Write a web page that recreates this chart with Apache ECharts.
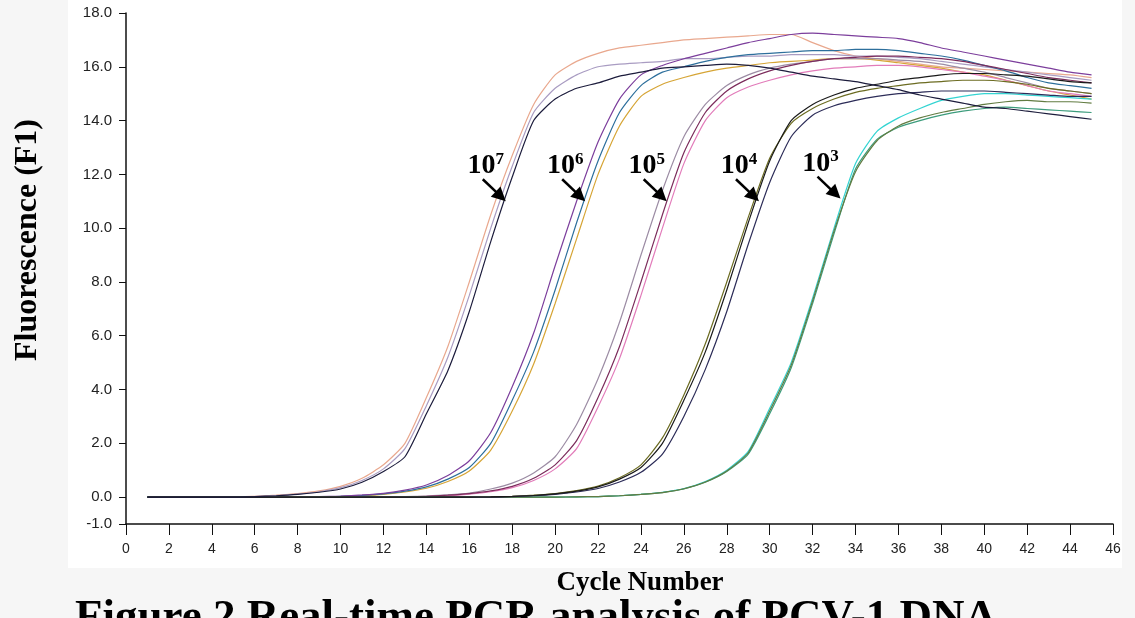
<!DOCTYPE html>
<html>
<head>
<meta charset="utf-8">
<title>Real-time PCR amplification curves</title>
<script src="https://cdn.jsdelivr.net/npm/echarts@6.0.0/dist/echarts.min.js"></script>
<style>
  html, body { margin: 0; padding: 0; background: #f6f6f6; }
  #chart { width: 1135px; height: 618px; }
</style>
</head>
<body>
<div id="chart"></div>
<script>
// cycle numbers (x)
const cycles = [1,2,3,4,5,6,7,8,9,10,11,12,13,14,15,16,17,18,19,20,21,22,23,24,25,26,27,28,29,30,31,32,33,34,35,36,37,38,39,40,41,42,43,44,45];

// fluorescence, 10^7 copies
const k7Pink  = [0,0,0,0,0,0.03,0.07,0.13,0.23,0.4,0.7,1.2,2.0,3.7,5.6,8.0,10.5,12.7,14.6,15.7,16.2,16.5,16.7,16.8,16.9,17.0,17.05,17.1,17.15,17.2,17.2,16.9,16.6,16.4,16.3,16.2,16.1,16.0,15.95,15.9,15.85,15.8,15.75,15.7,15.6];
const k7Lilac = [0,0,0,0,0,0.02,0.06,0.11,0.2,0.35,0.62,1.05,1.8,3.4,5.2,7.5,10.0,12.3,14.3,15.2,15.7,16.0,16.1,16.15,16.2,16.3,16.3,16.35,16.4,16.4,16.45,16.45,16.45,16.4,16.4,16.35,16.3,16.2,16.1,16.0,15.9,15.8,15.7,15.6,15.5];
const k7Black = [0,0,0,0,0,0.02,0.05,0.1,0.18,0.3,0.55,0.95,1.5,3.1,4.7,6.9,9.5,11.9,14.0,14.8,15.2,15.4,15.65,15.8,15.95,16.0,16.05,16.1,16.05,15.95,15.8,15.65,15.55,15.45,15.3,15.15,14.95,14.8,14.65,14.5,14.45,14.35,14.25,14.15,14.05];

// 10^6
const k6Purple = [0,0,0,0,0,0,0,0,0.02,0.04,0.08,0.14,0.26,0.45,0.8,1.35,2.4,4.1,6.1,8.6,11.0,13.2,14.8,15.7,16.05,16.3,16.5,16.7,16.9,17.05,17.2,17.25,17.2,17.15,17.1,17.05,16.9,16.7,16.55,16.4,16.25,16.1,15.95,15.8,15.7];
const k6Navy   = [0,0,0,0,0,0,0,0,0,0.03,0.06,0.12,0.22,0.38,0.67,1.1,2.0,3.6,5.4,7.7,10.2,12.5,14.3,15.3,15.8,16.0,16.2,16.35,16.45,16.5,16.55,16.6,16.6,16.65,16.65,16.6,16.5,16.4,16.25,16.05,15.85,15.6,15.4,15.3,15.2];
const k6Orange = [0,0,0,0,0,0,0,0,0,0.02,0.05,0.1,0.19,0.33,0.58,0.97,1.75,3.2,4.95,7.2,9.6,12.0,13.8,14.9,15.35,15.6,15.8,15.95,16.05,16.15,16.2,16.25,16.3,16.3,16.25,16.15,16.05,15.95,15.8,15.7,15.5,15.3,15.1,14.95,14.8];

// 10^5
const k5Gray    = [0,0,0,0,0,0,0,0,0,0,0,0,0.02,0.04,0.08,0.15,0.3,0.52,0.9,1.5,2.7,4.4,6.5,9.0,11.4,13.4,14.6,15.3,15.7,15.95,16.1,16.2,16.3,16.3,16.3,16.25,16.2,16.1,15.95,15.8,15.6,15.4,15.2,15.1,15.0];
const k5Magenta = [0,0,0,0,0,0,0,0,0,0,0,0,0,0.03,0.07,0.13,0.23,0.4,0.7,1.2,2.1,3.7,5.6,8.0,10.5,12.8,14.3,15.1,15.55,15.85,16.05,16.2,16.3,16.35,16.4,16.4,16.35,16.3,16.2,16.05,15.9,15.75,15.6,15.5,15.4];
const k5Pink    = [0,0,0,0,0,0,0,0,0,0,0,0,0,0.02,0.05,0.11,0.2,0.35,0.62,1.05,1.8,3.35,5.15,7.5,10.0,12.4,14.0,14.85,15.25,15.5,15.7,15.85,15.95,16.0,16.05,16.05,16.0,15.9,15.8,15.65,15.5,15.3,15.1,15.0,14.9];

// 10^4
const k4Black = [0,0,0,0,0,0,0,0,0,0,0,0,0,0,0,0,0.01,0.03,0.06,0.12,0.22,0.38,0.67,1.1,2.0,3.6,5.4,7.7,10.2,12.5,14.0,14.6,14.95,15.2,15.35,15.5,15.6,15.7,15.75,15.75,15.7,15.65,15.55,15.45,15.4];
const k4Olive = [0,0,0,0,0,0,0,0,0,0,0,0,0,0,0,0,0.01,0.03,0.07,0.13,0.24,0.41,0.72,1.2,2.2,3.8,5.7,8.0,10.4,12.6,13.9,14.45,14.8,15.05,15.2,15.3,15.4,15.45,15.5,15.5,15.45,15.35,15.2,15.1,15.0];
const k4Navy  = [0,0,0,0,0,0,0,0,0,0,0,0,0,0,0,0,0,0.02,0.05,0.1,0.19,0.32,0.56,0.92,1.6,3.0,4.75,6.9,9.4,11.7,13.4,14.2,14.55,14.75,14.9,15.0,15.05,15.1,15.1,15.1,15.05,15.0,14.95,14.9,14.9];

// 10^3
const k3Cyan  = [0,0,0,0,0,0,0,0,0,0,0,0,0,0,0,0,0,0,0,0,0.01,0.02,0.05,0.1,0.18,0.32,0.58,1.0,1.7,3.3,5.0,7.4,10.0,12.4,13.6,14.1,14.45,14.75,14.9,15.0,15.0,14.95,14.9,14.85,14.8];
const k3Green = [0,0,0,0,0,0,0,0,0,0,0,0,0,0,0,0,0,0,0,0,0.01,0.02,0.05,0.1,0.17,0.3,0.55,0.95,1.6,3.1,4.8,7.2,9.8,12.2,13.3,13.75,14.0,14.2,14.35,14.45,14.5,14.45,14.4,14.35,14.3];
const k3Olive = [0,0,0,0,0,0,0,0,0,0,0,0,0,0,0,0,0,0,0,0,0.01,0.02,0.05,0.1,0.17,0.31,0.56,0.97,1.65,3.2,4.9,7.3,9.9,12.1,13.25,13.8,14.1,14.3,14.45,14.6,14.7,14.75,14.7,14.7,14.65];

const curves = [
  { name: '10^7 a', data: k7Pink,    color: '#e9a88e' },
  { name: '10^7 b', data: k7Lilac,   color: '#a99cc2' },
  { name: '10^6 c', data: k6Orange,  color: '#d6a536' },
  { name: '10^6 b', data: k6Navy,    color: '#2d6f9c' },
  { name: '10^6 a', data: k6Purple,  color: '#7c3e9c' },
  { name: '10^5 a', data: k5Gray,    color: '#9c8ca4' },
  { name: '10^5 c', data: k5Pink,    color: '#e27cba' },
  { name: '10^5 b', data: k5Magenta, color: '#7c2c5c' },
  { name: '10^3 a', data: k3Cyan,    color: '#34d4d2' },
  { name: '10^3 b', data: k3Green,   color: '#3c9c7c' },
  { name: '10^3 c', data: k3Olive,   color: '#627c42' },
  { name: '10^4 b', data: k4Olive,   color: '#6c6c22' },
  { name: '10^4 c', data: k4Navy,    color: '#2c2c58' },
  { name: '10^4 a', data: k4Black,   color: '#1a1a1a' },
  { name: '10^7 c', data: k7Black,   color: '#1c1c3c' }
];

// y tick values, x ticks are every 2 cycles
const yTicks = [-1, 0, 2, 4, 6, 8, 10, 12, 14, 16, 18];

// dilution labels: where each arrow points (cycle, fluorescence)
const annoCycle = [17.7, 21.4, 25.2, 29.5, 33.3];
const annoValue = [11.0, 11.0, 11.0, 11.0, 11.1];
const annoExp   = ['7', '6', '5', '4', '3'];

const chart = echarts.init(document.getElementById('chart'));

const serif = '"Liberation Serif", "Times New Roman", serif';
const sans = '"Liberation Sans", Arial, sans-serif';

const lineSeries = curves.map(c => ({
  name: c.name,
  type: 'line',
  symbol: 'none',
  smooth: 0.2,
  silent: true,
  lineStyle: { width: 1.2, color: c.color },
  data: cycles.map((x, i) => [x, c.data[i]])
}));

const annoSeries = {
  type: 'custom',
  silent: true,
  z: 10,
  data: annoCycle.map((c, i) => [c, annoValue[i], annoExp[i]]),
  renderItem: function (params, api) {
    const tip = api.coord([api.value(0), api.value(1)]);
    const exp = annoExp[params.dataIndex];
    const dx = 23, dy = 22;
    const len = Math.sqrt(dx * dx + dy * dy);
    const ux = dx / len, uy = dy / len;
    const head = 14, half = 7;
    const bx = tip[0] - ux * head, by = tip[1] - uy * head;
    return {
      type: 'group',
      children: [
        {
          type: 'line',
          shape: { x1: tip[0] - dx, y1: tip[1] - dy, x2: bx + ux * 2, y2: by + uy * 2 },
          style: { stroke: '#000', lineWidth: 2.5 }
        },
        {
          type: 'polygon',
          shape: { points: [[tip[0], tip[1]], [bx - uy * half, by + ux * half], [bx + uy * half, by - ux * half]] },
          style: { fill: '#000' }
        },
        {
          type: 'text',
          x: tip[0] - 20,
          y: tip[1] - 35,
          style: {
            text: '{b|10}{s|' + exp + '}',
            align: 'center',
            verticalAlign: 'middle',
            rich: {
              b: {
                fontFamily: serif, fontWeight: 'bold', fontSize: 28, lineHeight: 30, fill: '#000',
                textShadowColor: 'rgba(0,0,0,0.35)', textShadowOffsetX: 2, textShadowOffsetY: 2
              },
              s: {
                fontFamily: serif, fontWeight: 'bold', fontSize: 17, lineHeight: 18, verticalAlign: 'top', fill: '#000',
                textShadowColor: 'rgba(0,0,0,0.35)', textShadowOffsetX: 2, textShadowOffsetY: 2
              }
            }
          }
        }
      ]
    };
  }
};

chart.setOption({
  animation: false,
  backgroundColor: '#f6f6f6',
  grid: { left: 126, right: 22, top: 13, bottom: 94 },
  graphic: [
    { type: 'rect', z: -100, silent: true, shape: { x: 68, y: 0, width: 1054, height: 568 }, style: { fill: '#ffffff' } },
    { type: 'rect', z: 100, silent: true, shape: { x: 1122, y: 0, width: 13, height: 568 }, style: { fill: '#f6f6f6' } },
    {
      type: 'text', z: 100, x: 28, y: 240, rotation: Math.PI / 2,
      style: { text: 'Fluorescence (F1)', align: 'center', verticalAlign: 'middle', font: 'bold 32px ' + serif, fill: '#000' }
    },
    {
      type: 'text', z: 90, x: 75, y: 596,
      style: { text: 'Figure 2 Real-time PCR analysis of PCV-1 DNA', align: 'left', verticalAlign: 'top', font: 'bold 45px ' + serif, fill: '#000' }
    },
    {
      type: 'text', z: 100, x: 640, y: 583,
      style: { text: 'Cycle Number', align: 'center', verticalAlign: 'middle', font: 'bold 27px ' + serif, fill: '#000' }
    }
  ],
  xAxis: {
    type: 'value',
    min: 0,
    max: 46,
    interval: 2,
    splitLine: { show: false },
    axisLine: { show: true, onZero: false, lineStyle: { color: '#111', width: 1.5 } },
    axisTick: { show: true, length: 11, lineStyle: { color: '#111', width: 1 } },
    axisLabel: { color: '#222', fontSize: 14, fontFamily: sans, margin: 18 }
  },
  yAxis: {
    type: 'value',
    min: -1,
    max: 18,
    splitLine: { show: false },
    axisLine: { show: true, onZero: false, lineStyle: { color: '#111', width: 1.5 } },
    axisTick: { show: true, length: 7, customValues: yTicks, lineStyle: { color: '#111', width: 1 } },
    axisLabel: {
      color: '#222', fontSize: 15, fontFamily: sans, margin: 14,
      customValues: yTicks,
      formatter: v => v.toFixed(1)
    }
  },
  series: lineSeries.concat([annoSeries])
});
</script>
</body>
</html>
